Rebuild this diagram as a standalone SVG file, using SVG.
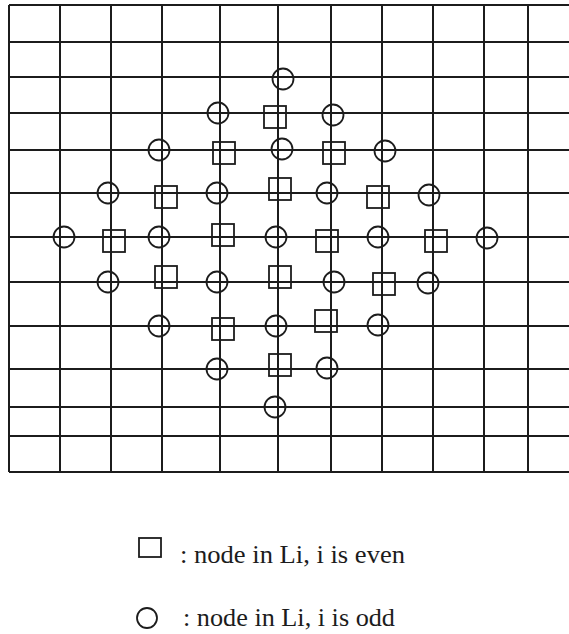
<svg xmlns="http://www.w3.org/2000/svg" width="569" height="634" viewBox="0 0 569 634">
<style>
.g{stroke:#1c1c1c;stroke-width:2;fill:none}
.c{stroke:#1c1c1c;stroke-width:1.8;fill:none}
.s{stroke:#1c1c1c;stroke-width:1.8;fill:none}
.t{font-family:"Liberation Serif","Times New Roman",serif;font-size:26px;fill:#1c1c1c}
</style>
<defs>
<circle id="odd" r="10.5" class="c"/>
<rect id="even" x="-11" y="-11" width="22" height="22" class="s"/>
</defs>
<rect width="569" height="634" fill="#ffffff"/>
<g id="connectors" class="g">
<path d="M9,5H569M9,42H569M9,77H569M9,113H569M9,150H569M9,193H569M9,237H569M9,282H569M9,326H569M9,369H569M9,407H569M9,436H569M9,472H569"/>
<path d="M9,5V472M60,5V472M111,5V472M162,5V472M220,5V472M278,5V472M331,5V472M382,5V472M433,5V472M484,5V472M528,5V472"/>
</g>
<g id="n1"><use href="#odd" x="283" y="79"/></g>
<g id="n2"><use href="#odd" x="218" y="113"/></g>
<g id="n3"><use href="#even" x="275" y="117"/></g>
<g id="n4"><use href="#odd" x="333" y="115"/></g>
<g id="n5"><use href="#odd" x="159" y="150"/></g>
<g id="n6"><use href="#even" x="224" y="153"/></g>
<g id="n7"><use href="#odd" x="282" y="149"/></g>
<g id="n8"><use href="#even" x="334" y="153"/></g>
<g id="n9"><use href="#odd" x="385" y="151"/></g>
<g id="n10"><use href="#odd" x="108" y="193"/></g>
<g id="n11"><use href="#even" x="166" y="197"/></g>
<g id="n12"><use href="#odd" x="217" y="193"/></g>
<g id="n13"><use href="#even" x="280" y="189"/></g>
<g id="n14"><use href="#odd" x="327" y="193"/></g>
<g id="n15"><use href="#even" x="378" y="197"/></g>
<g id="n16"><use href="#odd" x="429" y="195"/></g>
<g id="n17"><use href="#odd" x="64" y="237"/></g>
<g id="n18"><use href="#even" x="114" y="241"/></g>
<g id="n19"><use href="#odd" x="159" y="237"/></g>
<g id="n20"><use href="#even" x="223" y="235"/></g>
<g id="n21"><use href="#odd" x="276" y="237"/></g>
<g id="n22"><use href="#even" x="327" y="241"/></g>
<g id="n23"><use href="#odd" x="378" y="237"/></g>
<g id="n24"><use href="#even" x="436" y="241"/></g>
<g id="n25"><use href="#odd" x="487" y="238"/></g>
<g id="n26"><use href="#odd" x="108" y="282"/></g>
<g id="n27"><use href="#even" x="166" y="277"/></g>
<g id="n28"><use href="#odd" x="217" y="282"/></g>
<g id="n29"><use href="#even" x="280" y="277"/></g>
<g id="n30"><use href="#odd" x="334" y="282"/></g>
<g id="n31"><use href="#even" x="384" y="284"/></g>
<g id="n32"><use href="#odd" x="428" y="283"/></g>
<g id="n33"><use href="#odd" x="159" y="326"/></g>
<g id="n34"><use href="#even" x="223" y="329"/></g>
<g id="n35"><use href="#odd" x="276" y="326"/></g>
<g id="n36"><use href="#even" x="326" y="321"/></g>
<g id="n37"><use href="#odd" x="378" y="325"/></g>
<g id="n38"><use href="#odd" x="217" y="369"/></g>
<g id="n39"><use href="#even" x="280" y="365"/></g>
<g id="n40"><use href="#odd" x="327" y="368"/></g>
<g id="n41"><use href="#odd" x="275" y="407"/></g>
<g id="legend-even">
<rect x="139" y="538" width="22" height="19" class="s"/>
<text class="t" x="180" y="563" textLength="225" lengthAdjust="spacingAndGlyphs">: node in Li, i is even</text>
</g>
<g id="legend-odd">
<circle cx="147" cy="618" r="10" class="c"/>
<text class="t" x="183" y="626" textLength="212" lengthAdjust="spacingAndGlyphs">: node in Li, i is odd</text>
</g>
</svg>
